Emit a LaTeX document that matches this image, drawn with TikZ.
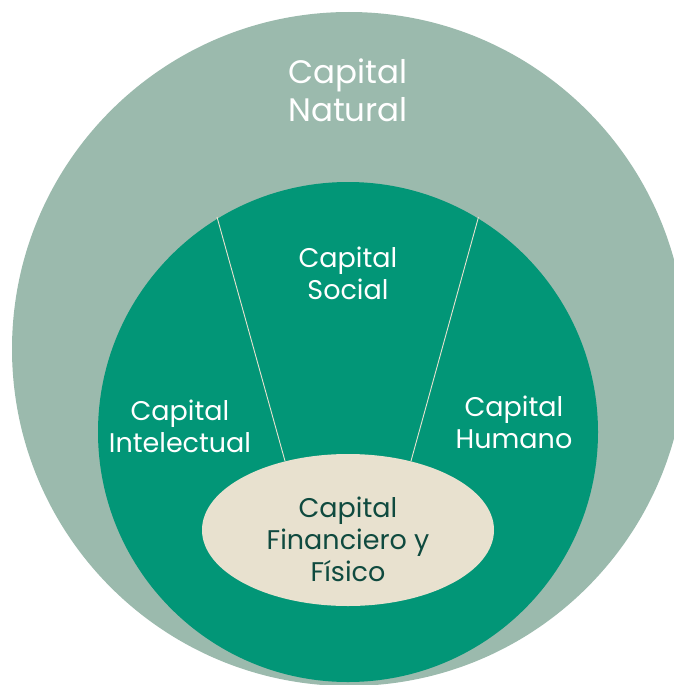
\documentclass[tikz,border=0pt]{standalone}
\usepackage{fontspec}
\setmainfont{Poppins}
\usetikzlibrary{shapes.geometric}
\definecolor{natural}{HTML}{9BBAAD}
\definecolor{inner}{HTML}{029677}
\definecolor{cream}{HTML}{E8E1CF}
\definecolor{darktext}{HTML}{0F4A3F}
\begin{document}
\begin{tikzpicture}[x=1pt,y=-1pt,
  lbl/.style={text=white,align=center,inner sep=0pt,font=\fontsize{27}{32}\selectfont},
  biglbl/.style={text=white,align=center,inner sep=0pt,font=\fontsize{32.5}{38}\selectfont},
  divider/.style={draw=cream,line width=0.9pt}]
\useasboundingbox (0,0) rectangle (674,685);
\begin{scope}
\clip (0,0) rectangle (674,685);
\fill[natural] (349,349) circle (337);
\fill[inner] (348,432) circle (250);
\end{scope}
\coordinate (l1) at (217,217);
\coordinate (l2) at (285,461);
\coordinate (r1) at (478.5,217);
\coordinate (r2) at (411,461);
\draw[divider] (l1) -- (l2);
\draw[divider] (r1) -- (r2);
\node[fill=cream,ellipse,minimum width=292pt,minimum height=152pt,inner sep=0pt] (fin) at (348,530) {};
\node[biglbl] (nat) at (348,90) {Capital\\Natural};
\node[lbl] (soc) at (348,273) {Capital\\Social};
\node[lbl] (int) at (180,426) {Capital\\Intelectual};
\node[lbl] (hum) at (514,422) {Capital\\Humano};
\node[lbl,text=darktext] (fint) at (348,539) {Capital\\Financiero y\\Físico};
\end{tikzpicture}
\end{document}
